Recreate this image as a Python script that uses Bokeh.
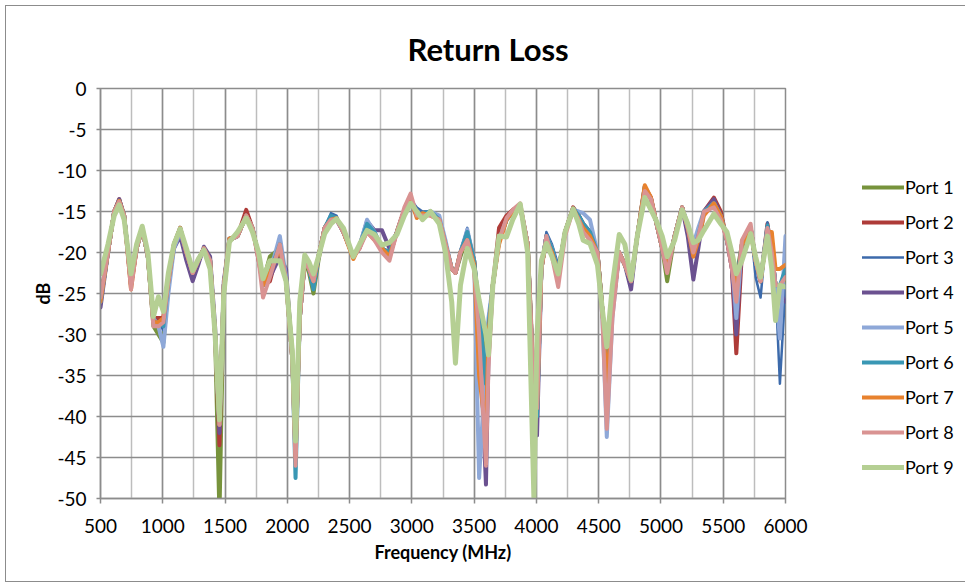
from bokeh.plotting import figure
from bokeh.models import Range1d, SingleIntervalTicker, Legend, LegendItem, Title, CustomJSTickFormatter
from bokeh.embed import file_html
from bokeh.resources import INLINE

title_text = "Return Loss"
x_label = "Frequency (MHz)"
y_label = "dB"
series_names = ["Port 1", "Port 2", "Port 3", "Port 4", "Port 5", "Port 6", "Port 7", "Port 8", "Port 9"]

freq = [500, 560, 610, 650, 690, 745, 790, 835, 880, 925,
        965, 1005, 1045, 1090, 1140, 1190, 1240, 1285, 1330, 1380,
        1420, 1455, 1490, 1535, 1600, 1670, 1720, 1770, 1805, 1860,
        1940, 1990, 2040, 2066, 2100, 2140, 2175, 2210, 2250, 2300,
        2350, 2395, 2450, 2530, 2580, 2640, 2700, 2760, 2820, 2880,
        2940, 2990, 3040, 3085, 3150, 3220, 3270, 3320, 3350, 3390,
        3445, 3500, 3540, 3595, 3615, 3650, 3700, 3760, 3810, 3870,
        3930, 3980, 4005, 4040, 4080, 4125, 4175, 4230, 4295, 4340,
        4375, 4430, 4490, 4530, 4565, 4610, 4665, 4710, 4760, 4810,
        4870, 4920, 4965, 5010, 5050, 5110, 5170, 5215, 5260, 5300,
        5345, 5425, 5480, 5530, 5570, 5605, 5650, 5720, 5760, 5800,
        5855, 5890, 5920, 5955, 6000]

port1 = [-25.5, -20, -15, -13.8, -15.5, -23.5, -19.5, -17, -20.5, -29,
         -30, -31, -24, -19, -17.2, -20, -22.5, -21, -19.5, -21,
         -30, -52, -25, -18.5, -18, -15.5, -17, -20.5, -23.5, -20.5,
         -19.5, -23, -32, -43, -27, -21, -22.5, -25, -21, -17,
         -15.8, -15.8, -17.5, -20.5, -19.2, -17.2, -18, -19.5, -20, -17.5,
         -14.8, -13.7, -15.5, -15.5, -15, -16, -19, -22, -22.5, -20.5,
         -18, -21, -27, -34, -30, -24, -18.5, -16, -15, -14.5,
         -19, -36, -38, -22, -18, -19.5, -22.5, -17.5, -14.8, -15.5,
         -16.5, -17.5, -20, -27, -33, -26, -20, -21.5, -23.5, -18,
         -12.2, -13.5, -16.5, -19.5, -23.5, -18, -14.5, -17, -20, -18,
         -15, -14, -15.5, -18.5, -21, -23, -19, -17, -21, -23.5,
         -17, -20, -24, -25, -23]

port2 = [-26, -20, -15, -13.5, -15.5, -24, -19.5, -17, -20.5, -28,
         -28, -28, -23, -19, -17, -20, -22.5, -21, -19.5, -21,
         -30, -43.5, -24, -18.3, -18, -14.8, -17, -21, -24, -23.5,
         -19, -23.5, -33, -44, -28, -21, -22, -24, -20.5, -17,
         -16, -15.8, -17.5, -20.5, -19.5, -17, -18.3, -19.8, -20.5, -17.5,
         -14.8, -13.5, -15.5, -15.2, -15.2, -16, -19, -22, -22.5, -20,
         -17.8, -21, -28, -38, -30, -24, -17, -15.5, -14.8, -14.3,
         -19, -37, -39, -22, -18, -19.5, -22.5, -17.5, -14.5, -15.5,
         -17, -18, -20, -27, -35, -27, -20, -21.5, -23.5, -18,
         -12, -13.3, -16.5, -19.5, -22, -18, -14.5, -17, -20, -18,
         -15, -13.3, -15, -18.5, -22, -32.3, -20, -17, -21, -23.5,
         -16.5, -20, -24, -25, -22]

port3 = [-26.3, -20, -15, -13.6, -15.5, -23.5, -19.5, -17, -20.5, -28.5,
         -28.5, -29.5, -23.5, -19, -17, -19.8, -22.3, -21, -19.5, -21,
         -30, -42, -24.5, -18.5, -18, -15.5, -17, -20.5, -23.5, -22.5,
         -19, -23.5, -33, -45, -28, -21, -22, -24.5, -20.5, -17,
         -15.2, -15.5, -17.5, -20.5, -19.2, -17, -18, -19.5, -20, -17.5,
         -14.8, -13.5, -14.5, -15, -15, -16, -19, -22, -22.5, -20,
         -17, -21, -27, -35, -28, -23.5, -18.5, -16, -15, -14.3,
         -19, -38, -39, -22, -17.5, -19, -21.5, -17.5, -14.5, -15.5,
         -16.5, -17.5, -20, -27, -34, -26, -20, -21.5, -23.5, -18,
         -12, -13.5, -16.5, -19.5, -22.5, -18, -14.5, -17, -20, -18,
         -15, -14, -15.5, -19, -21, -23, -19, -17, -23, -25.5,
         -16.3, -20, -24, -36, -24]

port4 = [-26.7, -20, -15, -13.5, -15.5, -24, -19.5, -17, -20.5, -28.5,
         -28.5, -29, -23.5, -19.5, -18, -21, -23.5, -21.5, -19.3, -20.5,
         -29, -42, -23.5, -18.5, -18, -15.5, -17, -20.5, -24, -23,
         -20.5, -22, -33, -44, -28, -21, -22, -24, -20.5, -17,
         -15.8, -16, -17.5, -20.5, -19.2, -16.2, -17.3, -17.3, -19.5, -17.5,
         -14.8, -13.5, -15.5, -15.2, -15, -16, -19, -22, -22.5, -20,
         -17.5, -21, -29, -48.3, -33, -24, -18.5, -16, -15, -14.3,
         -19, -38, -42.3, -22, -18, -19.5, -22.5, -17.5, -14.6, -15.5,
         -16.5, -17.5, -20, -27, -36, -27, -20, -21.5, -24.5, -18,
         -12.2, -13.5, -16.5, -19.5, -22, -18, -14.5, -18, -23.3, -19.5,
         -15, -13.5, -15.5, -18.5, -22, -30, -19, -17, -21, -23.5,
         -17, -20, -24, -25, -26]

port5 = [-26, -20, -15, -13.8, -15.5, -23.5, -19.5, -17, -20.5, -28,
         -29, -31.5, -25, -19.5, -17.5, -20, -22.5, -21, -19.5, -21,
         -30, -41, -24, -18.5, -18, -15.5, -17, -20.5, -23.5, -22.5,
         -18, -23, -33, -45, -28, -21, -22, -24, -20.5, -17,
         -15.8, -16, -17.5, -20.5, -19.2, -16, -17.5, -19.5, -20.5, -17.5,
         -14.8, -14, -15.5, -15.5, -15, -15.5, -18.5, -22, -22.5, -20,
         -17.2, -21, -47.5, -33, -28, -24, -18.5, -16, -15, -14.3,
         -19, -37, -39, -22, -18, -19.5, -22.5, -17.5, -14.8, -15,
         -15.2, -16, -20, -28, -42.5, -28, -20, -21.5, -23.5, -18,
         -12, -13.5, -16.5, -19.5, -22, -18, -14.5, -16.5, -19, -17,
         -15, -14, -15.5, -18.5, -21, -28, -19, -17, -21, -23.5,
         -17, -20, -24, -30.5, -18]

port6 = [-26, -20, -15, -13.7, -15.5, -24, -19.5, -17, -20.5, -28.5,
         -28.5, -29, -23.5, -19, -17, -20, -22.5, -21, -19.5, -21,
         -30, -41, -24, -18.3, -18, -15.5, -17, -20.5, -24, -22.5,
         -19, -23.5, -33, -47.5, -28, -21, -22, -24.5, -20.5, -17,
         -15.5, -15.8, -17.5, -20.5, -19.2, -16.5, -17.5, -19.5, -20, -17.5,
         -14.8, -13.5, -15.5, -15.2, -15, -16, -19, -22, -22.5, -20,
         -17.5, -21, -27, -36, -29, -24, -18.5, -16, -15, -14.3,
         -19, -38, -40, -22, -18, -19.5, -22.5, -17.5, -14.6, -15.5,
         -16.5, -17.5, -20, -27, -33, -26, -20, -21.5, -23.5, -18,
         -12, -13.5, -16.5, -19.5, -22, -18, -14.5, -17, -20, -18,
         -15, -14, -15.5, -18.5, -21, -24, -19, -17, -21, -23.5,
         -16.7, -20, -24, -24, -22]

port7 = [-26, -20, -15, -13.7, -15.5, -24.5, -19.5, -17, -20.5, -28.5,
         -28.5, -28, -23.5, -19, -17, -20, -22.5, -21, -19.5, -21,
         -30, -41, -24, -18.3, -18, -15.5, -17, -20.5, -24, -22.5,
         -19.5, -23.5, -33, -45, -28, -21, -22, -23.5, -20.5, -17,
         -16, -15.8, -17.5, -20.8, -19.2, -17.5, -18.5, -19.5, -20.5, -17.5,
         -14.8, -13.5, -15.8, -15.2, -15.5, -16, -19, -22, -22.5, -20,
         -18.5, -21.5, -35, -42, -30, -24, -19, -16, -15, -14.3,
         -19, -38, -39, -22, -18.5, -20, -22.5, -17.5, -14.6, -16,
         -17, -18, -20, -27, -36, -27, -20, -21.5, -23.5, -18,
         -11.8, -13.3, -16.5, -19.5, -22, -18, -14.5, -17, -20.5, -18.5,
         -15.5, -14, -15.5, -18.5, -21, -25, -19, -17.5, -21, -23.5,
         -17.5, -17.5, -22, -22, -21.5]

port8 = [-25.5, -20, -15, -13.8, -15.5, -24.5, -19.5, -17, -20.5, -29,
         -29, -28.5, -23.5, -19, -17.2, -20, -22.5, -21, -19.5, -21,
         -30, -41, -24, -18.5, -18, -15.5, -17, -21, -25.5, -23,
         -19, -23.5, -33, -46, -28, -21, -22, -23.5, -20.5, -17,
         -16, -16, -17.5, -20.5, -19.5, -17.5, -18.5, -20, -21, -17.5,
         -14.5, -12.8, -15.5, -15.5, -15.5, -16, -19, -22, -22.5, -20,
         -18.5, -22, -30, -46, -34, -24, -18.5, -15.8, -14.8, -14,
         -19, -37, -39, -22, -18, -20.5, -24.2, -18, -14.8, -16,
         -17.5, -18.5, -20, -28, -41.5, -28, -20, -21.5, -23.5, -18,
         -12.5, -13.5, -16.5, -19.5, -22.5, -18, -14.5, -17, -20, -18,
         -15, -14.5, -16, -18.5, -22, -26, -18.5, -16.5, -21, -23.5,
         -17, -20, -24, -24, -23]

port9 = [-22.6, -19, -15.5, -14.2, -16, -22.6, -19, -16.8, -20, -27.8,
         -25.4, -27.2, -22.5, -19, -17.1, -19.5, -22.2, -20.8, -19.7, -22,
         -30, -40.4, -25, -18.7, -17.5, -15.8, -17.5, -20, -23.2, -21,
         -21, -23.5, -32, -43, -26, -20.3, -21.2, -22.6, -20.5, -17.7,
         -16.5, -15.9, -17, -20.5, -19, -17.3, -17.8, -19.1, -18.8, -17.8,
         -15.5, -14, -15, -16, -15, -16.5, -20, -26, -33.5, -24,
         -19.5, -22, -25.8, -30, -32.5, -24, -18, -18.1, -16, -14.1,
         -20, -50, -30, -21, -18.9, -20.5, -22.6, -17.5, -14.7, -16.5,
         -18.5, -18.9, -21.5, -27, -31.5, -24, -17.8, -19, -23.3, -18,
         -13.3, -14.8, -16.2, -18, -20.5, -18.5, -14.8, -16.5, -18.8, -18.5,
         -17.3, -15.3, -16.5, -17.5, -20, -22.6, -21, -17.7, -20.5, -23,
         -18, -22, -28.3, -24, -24.2]

series = [port1, port2, port3, port4, port5, port6, port7, port8, port9]
colors = ["#77933C", "#AE3B38", "#3C6AAB", "#6B5190", "#8EA8D8",
          "#3997B4", "#E8822E", "#D99392", "#B5CF93"]
widths = [4, 4, 2.5, 4, 4, 4, 4, 4, 5]

FONT = "Lato"
GRID = "#8c8c8c"

p = figure(frame_width=685, frame_height=410, output_backend="svg", toolbar_location=None,
           x_range=Range1d(500, 6000), y_range=Range1d(-50, 0),
           min_border_left=94, min_border_right=177, min_border_top=82, min_border_bottom=83)
p.title = None
p.background_fill_color = "white"
p.border_fill_color = "white"
p.outline_line_color = GRID
p.outline_line_width = 1.5
p.styles = {"border": "1.5px solid #8c8c8c", "margin-left": "5px", "margin-top": "5px"}

p.xaxis.ticker = SingleIntervalTicker(interval=500, num_minor_ticks=2)
p.yaxis.ticker = SingleIntervalTicker(interval=5, num_minor_ticks=0)
p.yaxis.formatter = CustomJSTickFormatter(code="return tick.toString();")
p.xgrid.ticker = p.xaxis.ticker
p.ygrid.ticker = p.yaxis.ticker
p.xgrid.grid_line_color = GRID
p.xgrid.grid_line_width = 1.5
p.xgrid.minor_grid_line_color = "#bdbdbd"
p.xgrid.minor_grid_line_width = 1.5
p.ygrid.grid_line_color = GRID
p.ygrid.grid_line_width = 1.5

for ax in (p.xaxis, p.yaxis):
    ax.axis_line_color = GRID
    ax.axis_line_width = 1.5
    ax.major_tick_line_color = GRID
    ax.major_tick_line_width = 1.5
    ax.major_tick_in = 0
    ax.minor_tick_line_color = None
    ax.major_label_text_font = FONT
    ax.major_label_text_font_size = "19px"
    ax.major_label_text_color = "#000000"
    ax.axis_label_text_font = FONT
    ax.axis_label_text_font_size = "18px"
    ax.axis_label_text_font_style = "bold"
    ax.axis_label_text_color = "#000000"

p.xaxis.major_tick_out = 5
p.xaxis.major_label_standoff = 15
p.xaxis.axis_label = x_label
p.xaxis.axis_label_standoff = 5
p.yaxis.major_tick_out = 4
p.yaxis.major_label_standoff = 10
p.yaxis.axis_label = y_label
p.yaxis.axis_label_standoff = 0

renderers = []
for ys, c, w in zip(series, colors, widths):
    r = p.line(freq, ys, line_color=c, line_width=w, line_join="round", line_cap="round")
    renderers.append(r)

legend = Legend(items=[LegendItem(label=n, renderers=[r]) for n, r in zip(series_names, renderers)],
                location=(77, 20), orientation="vertical")
legend.border_line_color = None
legend.background_fill_alpha = 0
legend.padding = 0
legend.margin = 0
legend.spacing = 13
legend.glyph_width = 42
legend.glyph_height = 20
legend.label_height = 20
legend.label_standoff = 1
legend.label_text_font = FONT
legend.label_text_font_size = "18px"
legend.label_text_color = "#000000"
p.add_layout(legend, "right")

title = Title(text=title_text, align="left", offset=307, vertical_align="middle", standoff=40,
              text_font=FONT, text_font_size="31px", text_font_style="bold", text_color="#000000")
p.add_layout(title, "above")

open("out.html", "w").write(file_html(p, INLINE))
